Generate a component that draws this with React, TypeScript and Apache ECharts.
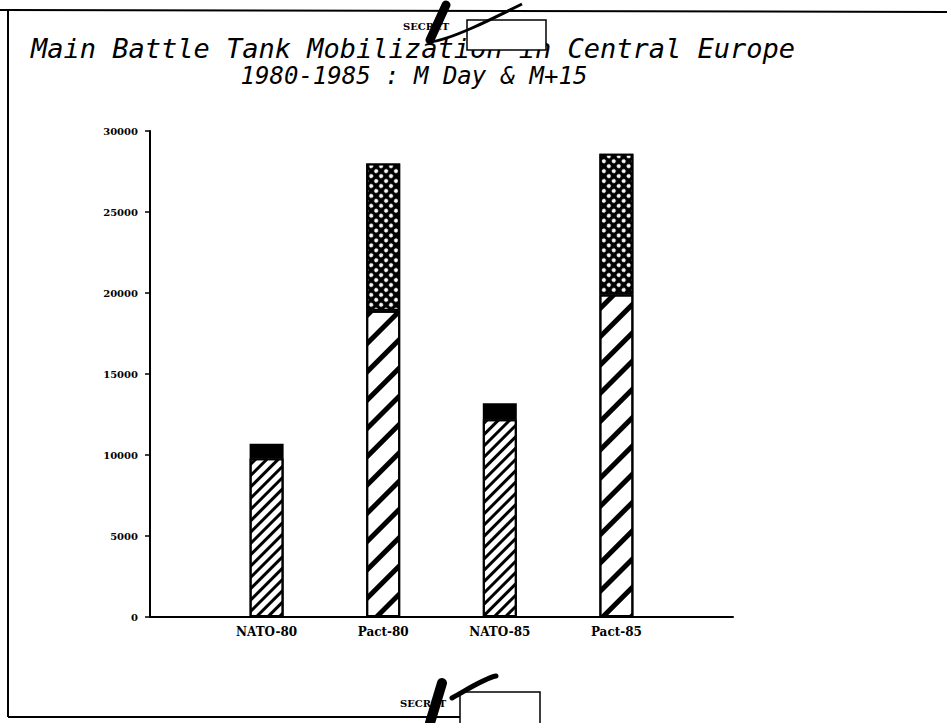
import React, { useEffect, useRef } from "react";
import * as echarts from "echarts";

const categories = ["", "NATO-80", "Pact-80", "NATO-85", "Pact-85", ""];
const mDay = [null, 9800, 18900, 12200, 19900, null];
const mPlus15Extra = [null, 900, 9100, 1000, 8700, null];
const yTicks = [0, 5000, 10000, 15000, 20000, 25000, 30000];

const thinHatch = {
  symbol: "rect",
  symbolSize: 1,
  dashArrayX: [1, 0],
  dashArrayY: [2.2, 4.3],
  rotation: -Math.PI / 4,
  color: "#000",
};
const thickHatch = {
  symbol: "rect",
  symbolSize: 1,
  dashArrayX: [1, 0],
  dashArrayY: [4.5, 14.5],
  rotation: -Math.PI / 4,
  color: "#000",
};
const dotHatch = {
  symbol: "circle",
  symbolSize: 1,
  dashArrayX: [3.6, 2.2],
  dashArrayY: [3.6, 2.2],
  rotation: Math.PI / 4,
  color: "#fff",
};

export default function App() {
  const ref = useRef<HTMLDivElement>(null);
  useEffect(() => {
    const chart = echarts.init(ref.current!, null, { renderer: "svg" });
    const isNato = (c: string) => c.startsWith("NATO");
    const baseData = mDay.map((v, i) =>
      v == null
        ? null
        : {
            value: v,
            itemStyle: {
              color: "#fff",
              borderColor: "#000",
              borderWidth: 2,
              decal: isNato(categories[i]) ? thinHatch : thickHatch,
            },
          }
    );
    const topData = mPlus15Extra.map((v, i) =>
      v == null
        ? null
        : {
            value: v,
            itemStyle: isNato(categories[i])
              ? { color: "#000", borderColor: "#000", borderWidth: 2 }
              : { color: "#000", borderColor: "#000", borderWidth: 2, decal: dotHatch },
          }
    );
    const font = "DejaVu Serif";
    const titleFont = "'DejaVu Sans Mono'";
    chart.setOption({
      animation: false,
      backgroundColor: "#fff",
      grid: { left: 150, right: 214, top: 131, bottom: 106, containLabel: false },
      xAxis: {
        type: "category",
        data: categories,
        boundaryGap: false,
        axisLine: { show: true, lineStyle: { color: "#000", width: 2 } },
        axisTick: { show: false },
        axisLabel: {
          color: "#000",
          fontFamily: font,
          fontWeight: "bold",
          fontSize: 12,
          margin: 9,
          interval: 0,
        },
        splitLine: { show: false },
      },
      yAxis: {
        type: "value",
        min: yTicks[0],
        max: yTicks[yTicks.length - 1],
        interval: 5000,
        axisLine: { show: true, lineStyle: { color: "#000", width: 2 } },
        axisTick: { show: true, length: 5, lineStyle: { color: "#000", width: 1.5 } },
        axisLabel: {
          color: "#000",
          fontFamily: font,
          fontWeight: "bold",
          fontSize: 10,
          margin: 12,
          formatter: (v: number) => String(v),
        },
        splitLine: { show: false },
      },
      series: [
        { name: "M Day", type: "bar", stack: "total", barWidth: 34, data: baseData },
        { name: "M+15", type: "bar", stack: "total", barWidth: 34, data: topData },
      ],
      graphic: [
        // page border
        { type: "line", z: 100, shape: { x1: 0, y1: 10, x2: 947, y2: 12 }, style: { stroke: "#000", lineWidth: 2 } },
        { type: "line", z: 100, shape: { x1: 8, y1: 11, x2: 8, y2: 717 }, style: { stroke: "#000", lineWidth: 2 } },
        { type: "line", z: 100, shape: { x1: 8, y1: 717, x2: 460, y2: 717 }, style: { stroke: "#000", lineWidth: 2 } },
        // title
        {
          type: "text", z: 100, x: 413, y: 48,
          style: {
            text: "Main Battle Tank Mobilization in Central Europe",
            font: `italic 27px ${titleFont}`, fill: "#000", align: "center", verticalAlign: "middle",
          },
        },
        {
          type: "text", z: 100, x: 414, y: 76,
          style: {
            text: "1980-1985 : M Day & M+15",
            font: `italic 24px ${titleFont}`, fill: "#000", align: "center", verticalAlign: "middle",
          },
        },
        // top SECRET stamp
        {
          type: "text", z: 100, x: 403, y: 26,
          style: { text: "SECRET", font: "bold 10px 'DejaVu Serif'", fill: "#000", align: "left", verticalAlign: "middle" },
        },
        { type: "rect", z: 101, shape: { x: 467, y: 20, width: 79, height: 30 }, style: { fill: "#fff", stroke: "#000", lineWidth: 1.5 } },
        { type: "line", z: 102, shape: { x1: 446, y1: 5, x2: 430, y2: 40 }, style: { stroke: "#000", lineWidth: 9, lineCap: "round" } },
        {
          type: "bezierCurve", z: 102,
          shape: { x1: 430, y1: 42, cpx1: 450, cpy1: 40, x2: 522, y2: 4, cpx2: 490, cpy2: 20 },
          style: { stroke: "#000", lineWidth: 3, fill: "none" },
        },
        // bottom SECRET stamp
        {
          type: "text", z: 100, x: 400, y: 703,
          style: { text: "SECRET", font: "bold 10px 'DejaVu Serif'", fill: "#000", align: "left", verticalAlign: "middle" },
        },
        { type: "rect", z: 101, shape: { x: 460, y: 692, width: 80, height: 40 }, style: { fill: "#fff", stroke: "#000", lineWidth: 1.5 } },
        { type: "line", z: 102, shape: { x1: 442, y1: 683, x2: 430, y2: 723 }, style: { stroke: "#000", lineWidth: 10, lineCap: "round" } },
        {
          type: "bezierCurve", z: 102,
          shape: { x1: 452, y1: 698, cpx1: 470, cpy1: 688, x2: 496, y2: 676, cpx2: 485, cpy2: 678 },
          style: { stroke: "#000", lineWidth: 5, fill: "none", lineCap: "round" },
        },
      ],
    });
    return () => chart.dispose();
  }, []);
  return (
    <div
      ref={ref}
      style={{ position: "absolute", left: 0, top: 0, width: 947, height: 723 }}
    />
  );
}
